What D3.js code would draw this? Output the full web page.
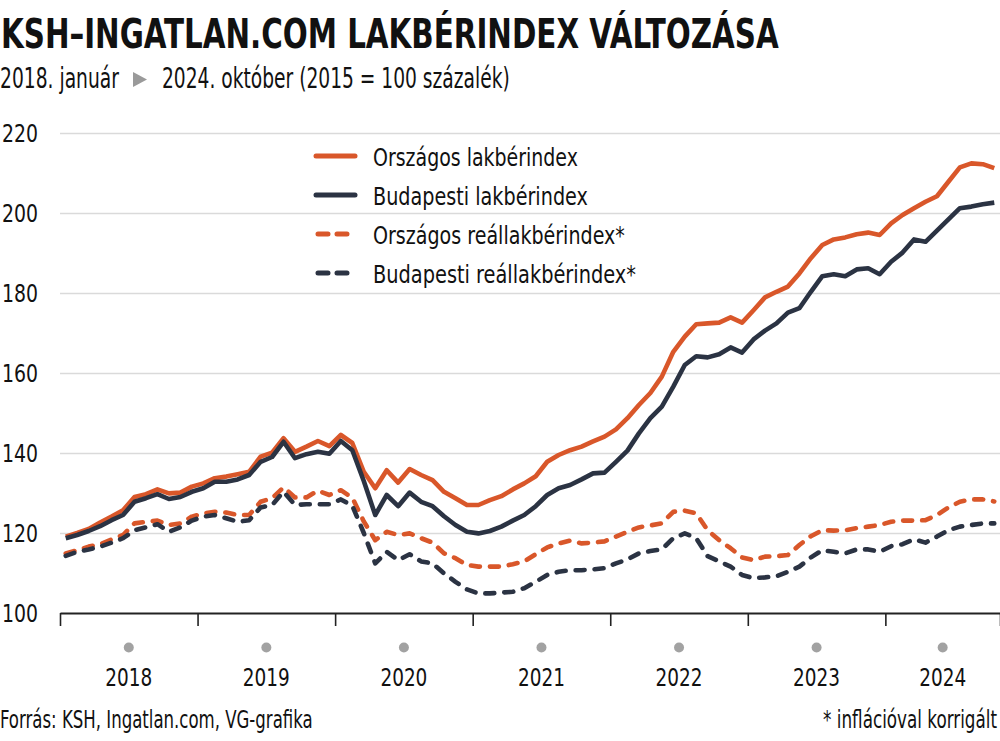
<!DOCTYPE html>
<html>
<head>
<meta charset="utf-8">
<script src="https://cdn.jsdelivr.net/npm/d3@7"></script>
<style>
  html, body { margin: 0; padding: 0; background: #fff; }
  svg { display: block; }
  text { font-family: "Liberation Sans Narrow", "DejaVu Sans Condensed", "Roboto", sans-serif; fill: #111; }
</style>
</head>
<body>
<svg id="chart" width="1000" height="741"></svg>
<script>
// ---------- DATA ----------
const years = ["2018", "2019", "2020", "2021", "2022", "2023", "2024"];
const yTicks = [100, 120, 140, 160, 180, 200, 220];
// monthly values, 2018-01 .. 2024-10 (82 months)
const orszagos = [
  119.1,120.0,121.0,122.6,124.1,125.7,129.0,129.7,130.9,129.9,130.1,131.6,
  132.4,133.7,134.1,134.7,135.3,139.1,140.1,143.7,140.3,141.6,143.0,141.7,
  144.5,142.5,135.3,131.2,135.7,132.6,136.0,134.5,133.2,130.3,128.7,127.0,
  127.0,128.2,129.2,130.9,132.4,134.2,137.8,139.5,140.7,141.6,142.9,144.1,
  145.9,148.7,152.0,155.0,159.1,165.3,169.1,172.2,172.4,172.6,173.9,172.6,
  175.7,178.9,180.3,181.6,184.9,188.7,192.0,193.4,193.9,194.7,195.1,194.5,
  197.4,199.5,201.2,202.8,204.2,207.8,211.4,212.4,212.2,211.2
];
const budapesti = [
  118.7,119.5,120.5,121.7,123.2,124.5,127.8,128.7,129.7,128.5,129.0,130.3,
  131.2,132.8,132.8,133.4,134.5,137.8,139.0,142.8,138.7,139.7,140.3,139.8,
  143.0,140.7,133.0,124.5,129.5,126.7,130.1,127.8,126.7,124.2,122.0,120.3,
  119.9,120.5,121.6,123.1,124.5,126.7,129.5,131.2,132.0,133.4,134.9,135.1,
  137.8,140.6,144.9,148.7,151.6,156.6,162.0,164.2,163.9,164.7,166.4,165.1,
  168.4,170.6,172.4,175.1,176.2,180.3,184.2,184.7,184.2,185.9,186.2,184.7,
  187.8,190.1,193.4,192.8,195.6,198.4,201.2,201.6,202.2,202.6
];
const orszagosReal = [
  114.9,115.7,116.6,117.2,118.4,119.5,122.4,122.8,123.1,122.0,122.4,124.1,
  124.9,125.3,125.1,124.5,124.5,127.8,128.7,131.4,128.9,128.9,130.6,129.5,
  130.7,128.8,122.9,118.2,120.3,119.5,119.9,118.7,117.6,114.9,113.7,112.0,
  111.6,111.6,111.6,112.2,112.9,114.7,116.4,117.4,118.1,117.4,117.6,117.9,
  119.1,120.3,121.4,121.9,122.4,125.3,125.6,124.9,120.7,118.2,116.2,113.9,
  113.2,114.1,114.2,114.5,117.0,119.2,120.7,120.6,120.7,121.2,121.6,122.0,
  122.8,123.1,123.1,123.2,124.5,126.4,127.8,128.4,128.4,127.9
];
const budapestiReal = [
  114.3,115.3,115.9,116.6,117.6,118.7,120.7,121.4,122.2,120.3,121.4,123.1,
  124.1,124.5,123.7,122.8,123.2,126.4,127.0,130.3,127.0,127.2,127.2,127.2,
  128.4,126.8,120.0,112.4,115.3,113.2,114.7,112.9,112.4,109.9,107.8,105.9,
  104.9,104.9,105.1,105.3,106.2,107.8,109.5,110.3,110.7,110.7,110.9,111.2,
  112.4,113.4,114.9,115.5,115.9,118.7,119.9,118.7,114.2,112.9,111.6,109.5,
  108.7,108.9,109.2,110.3,111.6,113.9,115.7,115.3,114.9,115.9,115.9,115.3,
  116.7,117.2,118.4,117.6,119.1,120.7,121.6,122.0,122.4,122.4
];
const seriesNames = ["Országos lakbérindex", "Budapesti lakbérindex", "Országos reállakbérindex*", "Budapesti reállakbérindex*"];
const titleText = "KSH–INGATLAN.COM LAKBÉRINDEX VÁLTOZÁSA";
const subStart = "2018. január";
const subEnd = "2024. október (2015 = 100 százalék)";
const sourceText = "Forrás: KSH, Ingatlan.com, VG-grafika";
const noteText = "* inflációval korrigált";

// ---------- STYLE ----------
const ORANGE = "#d9572a";
const DARK = "#2b3343";
const nMonths = 82;

const svg = d3.select("#chart");

// place a text so that it starts at (x0, y0) and spans width w (horizontal condensing via transform)
function placeText(parent, str, x0, y0, w, size, weight) {
  const t = parent.append("text").attr("x", 0).attr("y", 0)
    .style("font-size", size + "px").style("font-weight", weight || "normal").text(str);
  const len = t.node().getComputedTextLength() || w;
  t.attr("transform", `translate(${x0},${y0}) scale(${w / len},1)`);
  return t;
}

// scales
const x = d3.scaleLinear().domain([0, nMonths]).range([60, 1000]);
const y = d3.scaleLinear().domain([100, 220]).range([613, 133]);

// title + subtitle
placeText(svg, titleText, 1, 48, 778, 40, "bold");
placeText(svg, subStart, 0, 88, 119, 28);
svg.append("path").attr("d", "M133,72 L147,79.5 L133,87 Z").attr("fill", "#9a9a9a");
placeText(svg, subEnd, 162, 88, 348, 28);

// gridlines
const grid = svg.append("g").attr("transform", "translate(60,0)")
  .call(d3.axisLeft(y).tickValues(yTicks.filter(v => v > 100)).tickSize(-940).tickFormat(""));
grid.select(".domain").remove();
grid.selectAll("line").attr("stroke", "#dadada").attr("stroke-width", 1.3);

// y labels
const yl = svg.append("g");
yTicks.forEach(v => placeText(yl, String(v), 2, y(v) + 9, 36, 25));

// x axis
const monthTicks = d3.range(0, nMonths, 12).concat([nMonths]);
const xAxis = svg.append("g").attr("transform", "translate(0,613)")
  .call(d3.axisBottom(x).tickValues(monthTicks).tickSizeInner(13).tickSizeOuter(0).tickFormat(""));
xAxis.select(".domain").attr("stroke", "#222").attr("stroke-width", 2);
xAxis.selectAll(".tick line").attr("stroke", "#222").attr("stroke-width", 1.6);

// year centers
const yearCenters = years.map((yr, k) => (x(k * 12) + x(Math.min((k + 1) * 12, nMonths))) / 2);
svg.append("g").selectAll("circle").data(years).join("circle")
  .attr("cx", (d, k) => yearCenters[k]).attr("cy", 647.5).attr("r", 5).attr("fill", "#a2a2a2");
const yrG = svg.append("g");
years.forEach((yr, k) => placeText(yrG, yr, yearCenters[k] - 23.5, 686, 47, 25));

// lines
const line = d3.line().x((d, i) => x(i + 0.5)).y(d => y(d)).curve(d3.curveLinear);
const series = [
  { data: orszagosReal, color: ORANGE, dash: "9 10" },
  { data: budapestiReal, color: DARK, dash: "9 10" },
  { data: orszagos, color: ORANGE, dash: null },
  { data: budapesti, color: DARK, dash: null }
];
svg.append("g").selectAll("path").data(series).join("path")
  .attr("d", d => line(d.data))
  .attr("fill", "none").attr("stroke", d => d.color).attr("stroke-width", 4.6)
  .attr("stroke-linejoin", "round").attr("stroke-linecap", d => d.dash ? "round" : "butt")
  .attr("stroke-dasharray", d => d.dash);

// legend
const legendItems = [
  { name: seriesNames[0], color: ORANGE, dash: null, w: 205 },
  { name: seriesNames[1], color: DARK, dash: null, w: 215 },
  { name: seriesNames[2], color: ORANGE, dash: "10 9", w: 252 },
  { name: seriesNames[3], color: DARK, dash: "10 9", w: 263 }
];
const lg = svg.append("g");
legendItems.forEach((d, i) => {
  const cy = 156 + i * 39;
  lg.append("line").attr("x1", d.dash ? 318 : 316).attr("x2", d.dash ? 352 : 355)
    .attr("y1", cy).attr("y2", cy)
    .attr("stroke", d.color).attr("stroke-width", 5)
    .attr("stroke-linecap", "round").attr("stroke-dasharray", d.dash);
  placeText(lg, d.name, 373, cy + 10, d.w, 25);
});

// footer
placeText(svg, sourceText, 0, 728, 313, 24);
placeText(svg, noteText, 823, 728, 174, 24);
</script>
</body>
</html>
